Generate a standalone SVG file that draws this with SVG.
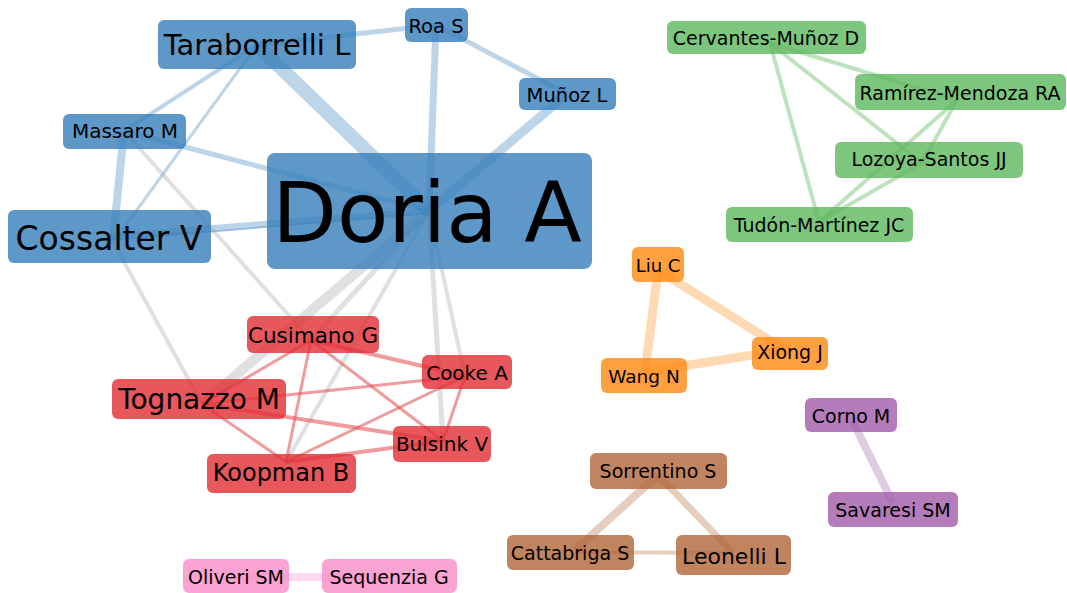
<svg xmlns="http://www.w3.org/2000/svg" width="1067" height="593" viewBox="0 0 1067 593">
<style>
text{font-family:"DejaVu Sans","Liberation Sans",sans-serif;fill:#000;text-anchor:middle}
.e{fill:none;stroke-linecap:butt}
.eb{stroke:#5b97c8;stroke-opacity:.4}
.eg{stroke:#999;stroke-opacity:.3}
.er{stroke:#e8575b;stroke-opacity:.6}
.egr{stroke:#7dc67d;stroke-opacity:.5}
.eo{stroke:#ffa040;stroke-opacity:.4}
.ep{stroke:#b47cbb;stroke-opacity:.4}
.ebr{stroke:#c0845f;stroke-opacity:.4}
.epk{stroke:#f9a3d3;stroke-opacity:.4}
rect{fill-opacity:.8}
.nb rect{fill:#347eba}
.nr rect{fill:#e22d33}
.ng rect{fill:#5cb85c}
.no rect{fill:#ff8810}
.np rect{fill:#a15baa}
.nbr rect{fill:#b06538}
.npk rect{fill:#f98dc9}
</style>
<rect width="1067" height="593" fill="#fff" fill-opacity="1"/>
<g id="connectors">
<line class="e eb" x1="257" y1="45" x2="429" y2="211" stroke-width="14"/>
<line class="e eb" x1="257" y1="45" x2="436" y2="25" stroke-width="5"/>
<line class="e eb" x1="436" y1="25" x2="429" y2="211" stroke-width="7"/>
<line class="e eb" x1="436" y1="25" x2="567" y2="94" stroke-width="5"/>
<line class="e eb" x1="567" y1="94" x2="429" y2="211" stroke-width="9"/>
<line class="e eb" x1="124" y1="131" x2="429" y2="211" stroke-width="5"/>
<line class="e eb" x1="124" y1="131" x2="257" y2="45" stroke-width="4"/>
<line class="e eb" x1="115" y1="240" x2="257" y2="45" stroke-width="3"/>
<line class="e eb" x1="124" y1="131" x2="113" y2="240" stroke-width="8"/>
<line class="e eb" x1="110" y1="237" x2="429" y2="211" stroke-width="7"/>
<line class="e eb" x1="110" y1="240" x2="429" y2="213" stroke-width="2"/>
<line class="e eg" x1="420" y1="218" x2="202" y2="404" stroke-width="10"/>
<line class="e eg" x1="429" y1="211" x2="311" y2="340" stroke-width="5"/>
<line class="e eg" x1="429" y1="211" x2="286" y2="462" stroke-width="4"/>
<line class="e eg" x1="429" y1="211" x2="443" y2="441" stroke-width="5"/>
<line class="e eg" x1="429" y1="211" x2="465" y2="376" stroke-width="4"/>
<line class="e eg" x1="124" y1="131" x2="311" y2="340" stroke-width="4"/>
<line class="e eg" x1="112" y1="240" x2="202" y2="404" stroke-width="4"/>
<line class="e er" x1="202" y1="404" x2="311" y2="340" stroke-width="3"/>
<line class="e er" x1="202" y1="404" x2="465" y2="376" stroke-width="3"/>
<line class="e er" x1="202" y1="404" x2="443" y2="441" stroke-width="4"/>
<line class="e er" x1="202" y1="404" x2="286" y2="462" stroke-width="3"/>
<line class="e er" x1="311" y1="340" x2="465" y2="376" stroke-width="4"/>
<line class="e er" x1="311" y1="340" x2="286" y2="462" stroke-width="3"/>
<line class="e er" x1="311" y1="340" x2="443" y2="441" stroke-width="3"/>
<line class="e er" x1="465" y1="376" x2="286" y2="462" stroke-width="3"/>
<line class="e er" x1="465" y1="376" x2="443" y2="441" stroke-width="3"/>
<line class="e er" x1="286" y1="462" x2="443" y2="441" stroke-width="4"/>
<line class="e egr" x1="770" y1="43" x2="957" y2="100" stroke-width="4"/>
<line class="e egr" x1="770" y1="43" x2="922" y2="163" stroke-width="4"/>
<line class="e egr" x1="770" y1="43" x2="819" y2="222" stroke-width="4"/>
<line class="e egr" x1="957" y1="100" x2="922" y2="163" stroke-width="4"/>
<line class="e egr" x1="957" y1="100" x2="819" y2="222" stroke-width="4"/>
<line class="e egr" x1="922" y1="163" x2="819" y2="222" stroke-width="4"/>
<line class="e eo" x1="658" y1="270" x2="785" y2="350" stroke-width="9"/>
<line class="e eo" x1="658" y1="270" x2="645" y2="372" stroke-width="9"/>
<line class="e eo" x1="645" y1="372" x2="785" y2="350" stroke-width="9"/>
<line class="e ep" x1="852" y1="420" x2="893" y2="503" stroke-width="8"/>
<line class="e ebr" x1="658" y1="475" x2="575" y2="550" stroke-width="8"/>
<line class="e ebr" x1="658" y1="475" x2="733" y2="553" stroke-width="7"/>
<line class="e ebr" x1="575" y1="552" x2="733" y2="553" stroke-width="4"/>
<line class="e epk" x1="236" y1="577" x2="389" y2="577" stroke-width="8"/>
</g>
<g id="n-taraborrelli" class="nb"><rect x="158" y="20" width="198" height="49" rx="6"/><text x="257" y="55" font-size="29">Taraborrelli L</text></g>
<g id="n-roa" class="nb"><rect x="405" y="8" width="63" height="34" rx="6"/><text x="436" y="33" font-size="19.5">Roa S</text></g>
<g id="n-munoz" class="nb"><rect x="519" y="78" width="97" height="32" rx="6"/><text x="567" y="102" font-size="19.5">Muñoz L</text></g>
<g id="n-massaro" class="nb"><rect x="63" y="114" width="123" height="35" rx="6"/><text x="125" y="138" font-size="20">Massaro M</text></g>
<g id="n-doria" class="nb"><rect x="267" y="153" width="325" height="116" rx="8"/><text x="427" y="242" font-size="84">Doria A</text></g>
<g id="n-cossalter" class="nb"><rect x="8" y="210" width="203" height="53" rx="6"/><text x="109" y="250" font-size="33">Cossalter V</text></g>
<g id="n-cervantes" class="ng"><rect x="667" y="21" width="199" height="33" rx="6"/><text x="766" y="45" font-size="19">Cervantes-Muñoz D</text></g>
<g id="n-ramirez" class="ng"><rect x="855" y="74" width="211" height="36" rx="6"/><text x="960" y="100" font-size="19">Ramírez-Mendoza RA</text></g>
<g id="n-lozoya" class="ng"><rect x="835" y="142" width="188" height="36" rx="6"/><text x="929" y="166" font-size="19">Lozoya-Santos JJ</text></g>
<g id="n-tudon" class="ng"><rect x="726" y="207" width="187" height="35" rx="6"/><text x="819" y="232" font-size="19">Tudón-Martínez JC</text></g>
<g id="n-liu" class="no"><rect x="632" y="247" width="52" height="35" rx="6"/><text x="658" y="272" font-size="18">Liu C</text></g>
<g id="n-xiong" class="no"><rect x="752" y="337" width="76" height="33" rx="6"/><text x="790" y="359" font-size="19">Xiong J</text></g>
<g id="n-wang" class="no"><rect x="601" y="358" width="86" height="35" rx="6"/><text x="644" y="383" font-size="18.5">Wang N</text></g>
<g id="n-corno" class="np"><rect x="805" y="398" width="92" height="34" rx="6"/><text x="851" y="423" font-size="19">Corno M</text></g>
<g id="n-savaresi" class="np"><rect x="828" y="492" width="130" height="35" rx="6"/><text x="893" y="517" font-size="19">Savaresi SM</text></g>
<g id="n-sorrentino" class="nbr"><rect x="590" y="453" width="137" height="36" rx="6"/><text x="658" y="478" font-size="19">Sorrentino S</text></g>
<g id="n-cattabriga" class="nbr"><rect x="507" y="535" width="127" height="35" rx="6"/><text x="570" y="560" font-size="19">Cattabriga S</text></g>
<g id="n-leonelli" class="nbr"><rect x="676" y="535" width="115" height="40" rx="6"/><text x="734" y="564" font-size="22">Leonelli L</text></g>
<g id="n-oliveri" class="npk"><rect x="183" y="559" width="106" height="34" rx="6"/><text x="236" y="584" font-size="19">Oliveri SM</text></g>
<g id="n-sequenzia" class="npk"><rect x="322" y="559" width="135" height="34" rx="6"/><text x="389" y="584" font-size="19">Sequenzia G</text></g>
<g id="n-cusimano" class="nr"><rect x="247" y="316" width="132" height="37" rx="6"/><text x="313" y="343" font-size="21.5">Cusimano G</text></g>
<g id="n-cooke" class="nr"><rect x="422" y="355" width="90" height="34" rx="6"/><text x="467" y="380" font-size="20">Cooke A</text></g>
<g id="n-tognazzo" class="nr"><rect x="112" y="379" width="174" height="40" rx="6"/><text x="199" y="409" font-size="28">Tognazzo M</text></g>
<g id="n-bulsink" class="nr"><rect x="393" y="426" width="98" height="36" rx="6"/><text x="442" y="451" font-size="20">Bulsink V</text></g>
<g id="n-koopman" class="nr"><rect x="207" y="454" width="149" height="39" rx="6"/><text x="281" y="481" font-size="24">Koopman B</text></g>
</svg>
